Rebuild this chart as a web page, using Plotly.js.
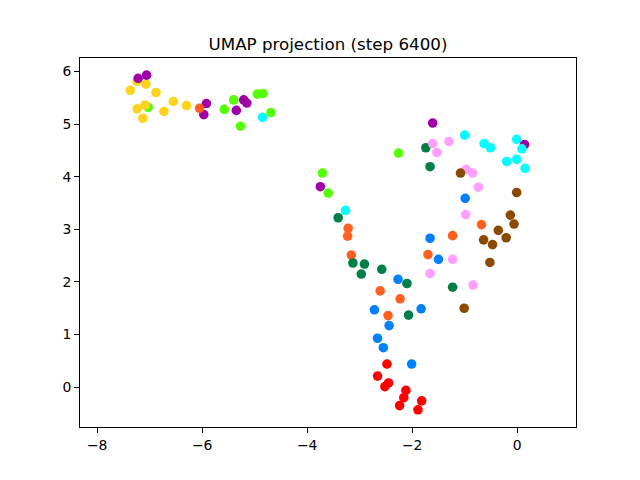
<!DOCTYPE html>
<html>
<head>
<meta charset="utf-8">
<script src="https://cdn.plot.ly/plotly-3.0.1.min.js"></script>
<style>html,body{margin:0;padding:0;background:#fff;}#chart{width:640px;height:480px;}</style>
</head>
<body>
<div id="chart"></div>
<script>
// Series data
const limeX = [-7.03, -5.58, -5.40, -5.27, -4.95, -4.84, -4.69, -3.71, -3.60, -2.26];
const limeY = [5.32, 5.28, 5.46, 4.96, 5.57, 5.58, 5.22, 4.07, 3.69, 4.45];

const yellowX = [-7.24, -7.07, -7.37, -6.88, -6.55, -6.30, -7.09, -7.24, -6.73, -7.13];
const yellowY = [5.81, 5.76, 5.64, 5.60, 5.43, 5.35, 5.36, 5.29, 5.24, 5.11];

const purpleX = [-7.22, -7.06, -5.92, -5.97, -5.21, -5.15, -5.35, -3.75, -1.61, 0.14];
const purpleY = [5.87, 5.93, 5.39, 5.18, 5.46, 5.40, 5.26, 3.81, 5.02, 4.61];

const orangeX = [-6.05, -3.22, -3.23, -3.16, -2.61, -2.23, -2.46, -1.70, -1.23, -0.68];
const orangeY = [5.30, 3.02, 2.87, 2.51, 1.83, 1.68, 1.36, 2.52, 2.88, 3.09];

const dgreenX = [-3.41, -3.13, -2.91, -2.97, -2.58, -2.10, -2.07, -1.74, -1.66, -1.23];
const dgreenY = [3.22, 2.36, 2.34, 2.15, 2.24, 1.97, 1.37, 4.55, 4.19, 1.90];

const pinkX = [-1.61, -1.53, -1.30, -0.97, -0.85, -0.74, -0.98, -1.23, -1.66, -0.84];
const pinkY = [4.63, 4.46, 4.67, 4.14, 4.07, 3.80, 3.28, 2.43, 2.16, 1.94];

const brownX = [-1.08, -0.01, -0.13, -0.06, -0.36, -0.21, -0.64, -0.47, -0.52, -1.01];
const brownY = [4.07, 3.70, 3.27, 3.10, 2.98, 2.84, 2.80, 2.71, 2.37, 1.50];

const blueX = [-0.99, -1.66, -1.50, -2.27, -2.72, -1.83, -2.44, -2.66, -2.55, -2.01];
const blueY = [3.59, 2.83, 2.43, 2.05, 1.47, 1.49, 1.17, 0.93, 0.75, 0.44];

const redX = [-2.48, -2.66, -2.45, -2.52, -2.12, -2.16, -1.82, -2.24, -1.89];
const redY = [0.44, 0.21, 0.08, 0.01, -0.06, -0.20, -0.26, -0.35, -0.43];

const cyanX = [-4.85, -3.27, -1.00, -0.63, -0.51, -0.01, 0.09, -0.20, -0.01, 0.15];
const cyanY = [5.13, 3.36, 4.79, 4.63, 4.55, 4.71, 4.53, 4.29, 4.33, 4.16];

const xTicks = [-8, -6, -4, -2, 0];
const yTicks = [0, 1, 2, 3, 4, 5, 6];
const titleText = "UMAP projection (step 6400)";

const series = [
  [limeX, limeY, "#55ff00"],
  [yellowX, yellowY, "#ffd21e"],
  [purpleX, purpleY, "#a000a8"],
  [orangeX, orangeY, "#ff6020"],
  [dgreenX, dgreenY, "#008046"],
  [pinkX, pinkY, "#ffa0ff"],
  [brownX, brownY, "#8b4a00"],
  [blueX, blueY, "#0080ff"],
  [redX, redY, "#ff0000"],
  [cyanX, cyanY, "#00ffff"]
];

const traces = series.map(s => ({
  type: "scatter", mode: "markers", x: s[0], y: s[1],
  marker: {color: s[2], size: 9.6, line: {width: 0}},
  hoverinfo: "none", showlegend: false
}));

const axisCommon = {
  showgrid: false, zeroline: false, showline: true, mirror: true,
  linecolor: "#000", linewidth: 1.1, ticks: "outside", ticklen: 4.9,
  tickwidth: 1.1, tickcolor: "#000",
  tickfont: {family: "DejaVu Sans", size: 13.9, color: "#000"}
};

const layout = {
  width: 640, height: 480,
  margin: {l: 80, r: 64, t: 57.6, b: 52.8, pad: 0},
  paper_bgcolor: "#fff", plot_bgcolor: "#fff",
  title: {text: titleText, font: {family: "DejaVu Sans", size: 16.7, color: "#000"},
          x: 0.5, xref: "paper", xanchor: "center", y: 1 - 44/480, yref: "container", yanchor: "middle"},
  xaxis: Object.assign({}, axisCommon, {range: [-8.328, 1.12], tickvals: xTicks, ticktext: xTicks.map(v => v < 0 ? "\u2212" + Math.abs(v) : String(v))}),
  yaxis: Object.assign({}, axisCommon, {range: [-0.757, 6.256], tickvals: yTicks, ticktext: yTicks.map(String)})
};

Plotly.newPlot("chart", traces, layout, {staticPlot: true, displayModeBar: false});
</script>
</body>
</html>
